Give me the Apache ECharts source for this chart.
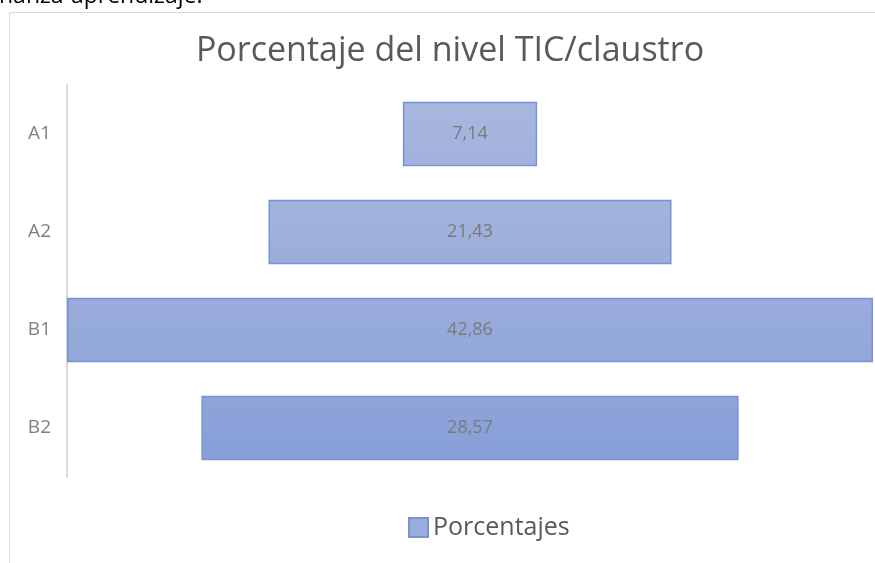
<!DOCTYPE html>
<html>
<head>
<meta charset="utf-8">
<script src="https://cdn.jsdelivr.net/npm/echarts@6/dist/echarts.min.js"></script>
<style>
html,body{margin:0;padding:0;background:#fff;}
#c{width:875px;height:563px;}
</style>
</head>
<body>
<div id="c"></div>
<script>
const categories = ['A1', 'A2', 'B1', 'B2'];
const values = [7.14, 21.43, 42.86, 28.57];
const seriesName = 'Porcentajes';
const titleText = 'Porcentaje del nivel TIC/claustro';
const topText = 'nanza-aprendizaje.';

const maxVal = Math.max(...values);
const offsets = values.map(v => (maxVal - v) / 2);
const fills = [['#a8b7df', '#a2b2dd'], ['#a3b3de', '#9cadda'], ['#99acdc', '#93a7da'], ['#8ea4da', '#879fd8']];

const chart = echarts.init(document.getElementById('c'), null, {renderer: 'canvas'});
const fontF = '"Open Sans", "DejaVu Sans", sans-serif';

chart.setOption({
  animation: false,
  backgroundColor: '#ffffff',
  title: {
    text: titleText,
    left: 445, top: 29, textAlign: 'center',
    textStyle: {color: '#595959', fontSize: 34, fontWeight: 'normal', fontFamily: fontF}
  },
  legend: {
    data: [seriesName],
    left: 403, top: 510,
    icon: 'rect', itemWidth: 19, itemHeight: 19, itemGap: 10,
    textStyle: {color: '#595959', fontSize: 25, fontFamily: fontF}
  },
  grid: {left: 67, right: 2, top: 85, bottom: 86, containLabel: false},
  xAxis: {type: 'value', min: 0, max: maxVal, show: false},
  yAxis: {
    type: 'category', data: categories, inverse: true,
    axisLine: {show: true, lineStyle: {color: '#d9d9d9', width: 2}},
    axisTick: {show: false},
    axisLabel: {color: '#7f7f7f', fontSize: 19, margin: 16, fontFamily: fontF},
    splitLine: {show: false}
  },
  graphic: [
    {type: 'polyline', silent: true, shape: {points: [[9.5, 563], [9.5, 12.5], [875, 12.5]]}, style: {stroke: '#d9d9d9', lineWidth: 1, fill: null}},
    {type: 'text', left: -1, top: -15, silent: true, style: {text: topText, fill: '#000', font: '23px ' + fontF}}
  ],
  series: [
    {
      name: 'offset', type: 'bar', stack: 'f', silent: true,
      data: offsets, itemStyle: {color: 'transparent'}, barCategoryGap: '34%'
    },
    {
      name: seriesName, type: 'bar', stack: 'f', barCategoryGap: '34%',
      data: values.map((v, i) => ({
        value: v,
        itemStyle: {color: new echarts.graphic.LinearGradient(0, 0, 0, 1, [{offset: 0, color: fills[i][0]}, {offset: 1, color: fills[i][1]}])}
      })),
      itemStyle: {color: '#99acdc', borderColor: '#7893d4', borderWidth: 1.5},
      label: {
        show: true, position: 'inside', color: '#7a7a7a', fontSize: 18, fontFamily: fontF,
        formatter: p => p.value.toFixed(2).replace('.', ',')
      }
    }
  ]
});
</script>
</body>
</html>
